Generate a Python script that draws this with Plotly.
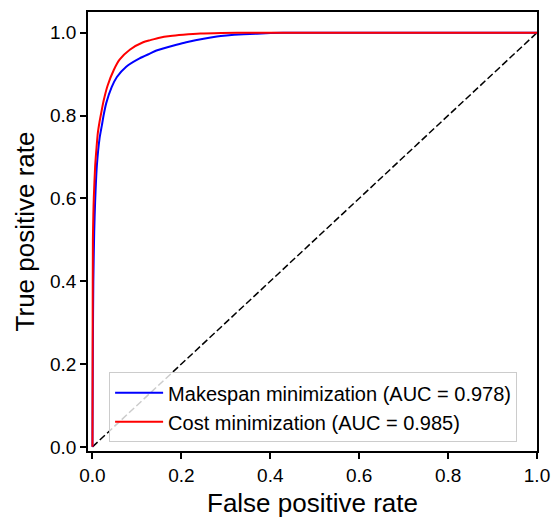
import plotly.graph_objects as go

# ROC curve points
makespan_fpr = [0, 0.001, 0.002, 0.004, 0.006, 0.010, 0.016, 0.021, 0.025, 0.031, 0.043, 0.055,
                0.076, 0.106, 0.130, 0.144, 0.189, 0.211, 0.28, 0.34, 0.40, 0.45, 1.0]
makespan_tpr = [0, 0.25, 0.40, 0.52, 0.59, 0.68, 0.745, 0.775, 0.80, 0.83, 0.868, 0.893,
                0.918, 0.938, 0.950, 0.957, 0.971, 0.977, 0.991, 0.996, 0.999, 1.0, 1.0]

cost_fpr = [0, 0.0005, 0.001, 0.002, 0.003, 0.006, 0.009, 0.012, 0.016, 0.0195, 0.025, 0.034,
            0.048, 0.061, 0.084, 0.114, 0.130, 0.151, 0.175, 0.204, 0.243, 0.29, 0.35, 1.0]
cost_tpr = [0, 0.30, 0.50, 0.56, 0.60, 0.676, 0.72, 0.757, 0.785, 0.805, 0.835, 0.872,
            0.910, 0.935, 0.959, 0.977, 0.982, 0.988, 0.992, 0.995, 0.998, 0.9993, 1.0, 1.0]

diag_x = [0, 1]
diag_y = [0, 1]

makespan_label = "Makespan minimization (AUC = 0.978)"
cost_label = "Cost minimization (AUC = 0.985)"

tick_vals = [0.0, 0.2, 0.4, 0.6, 0.8, 1.0]
tick_text = ["0.0", "0.2", "0.4", "0.6", "0.8", "1.0"]

font_family = "Liberation Sans, Arial, sans-serif"

fig = go.Figure()
fig.add_trace(go.Scatter(x=diag_x, y=diag_y, mode="lines", showlegend=False,
                         line=dict(color="black", width=1.5, dash="7px,3px")))
fig.add_trace(go.Scatter(x=makespan_fpr, y=makespan_tpr, mode="lines", name=makespan_label,
                         line=dict(color="#0000ff", width=2, shape="spline", smoothing=0.6)))
fig.add_trace(go.Scatter(x=cost_fpr, y=cost_tpr, mode="lines", name=cost_label,
                         line=dict(color="#ff0000", width=2, shape="spline", smoothing=0.6)))

axis_common = dict(
    showgrid=False, zeroline=False, showline=True, linecolor="black", linewidth=1.5,
    mirror=True, ticks="outside", ticklen=6, tickwidth=1.5, tickcolor="black",
    tickvals=tick_vals, ticktext=tick_text, automargin=False,
    tickfont=dict(family=font_family, size=19, color="black"),
)

fig.update_layout(
    width=552, height=518,
    margin=dict(l=88, r=15, t=12, b=67),
    plot_bgcolor="white", paper_bgcolor="white",
    font=dict(family=font_family, color="black"),
    xaxis=dict(range=[-0.01, 1.0], title=dict(text="False positive rate",
               font=dict(family=font_family, size=26)), **axis_common),
    yaxis=dict(range=[-0.01, 1.05], title=dict(text="True positive rate", standoff=8,
               font=dict(family=font_family, size=26)), **axis_common),
    legend=dict(x=0.047, y=0.02, xanchor="left", yanchor="bottom",
                bgcolor="rgba(255,255,255,0.8)", bordercolor="#cccccc", borderwidth=1,
                font=dict(family=font_family, size=20, color="black"),
                itemwidth=48, tracegroupgap=0),
    showlegend=True,
)

fig.write_html("out.html", config={"displayModeBar": False},
               post_script="document.body.style.margin='0';")
